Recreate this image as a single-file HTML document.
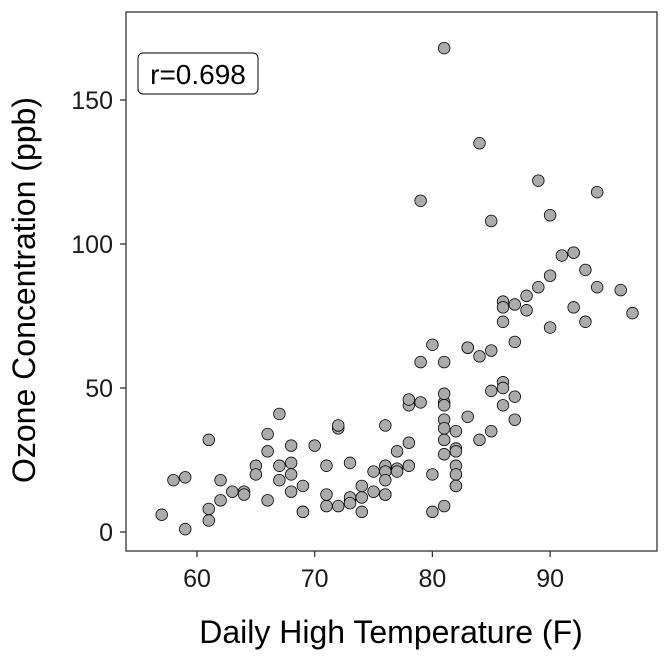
<!DOCTYPE html>
<html><head><meta charset="utf-8"><style>
html,body{margin:0;padding:0;background:#fff;}
svg{display:block;font-family:"Liberation Sans",sans-serif;}
</style></head><body>
<svg id="chart" width="672" height="672" viewBox="0 0 672 672">
<rect x="126" y="12" width="531" height="539" fill="#fff" stroke="#333" stroke-width="1.3"/>
<g id="xticks"></g>
<g id="yticks"></g>
<g id="points"></g>
<g>
<rect x="138" y="53" width="120" height="41" rx="5" fill="#fff" stroke="#000" stroke-width="1"/>
<text x="198" y="84" font-size="28" text-anchor="middle" fill="#000">r=0.698</text>
</g>
<text x="391" y="643" font-size="32" text-anchor="middle" fill="#000">Daily High Temperature (F)</text>
<text transform="translate(35,290) rotate(-90)" font-size="32" text-anchor="middle" fill="#000">Ozone Concentration (ppb)</text>
</svg>
<script>
const temps=[67,72,74,62,66,65,59,61,69,74,69,66,68,58,64,66,57,68,62,59,73,61,61,67,81,79,76,82,90,87,82,72,65,73,76,84,85,81,83,83,88,92,92,89,73,81,80,81,82,84,87,85,74,86,85,82,86,88,86,83,81,81,81,82,86,85,87,89,90,90,86,82,80,77,79,76,78,78,77,72,79,81,86,97,94,96,94,91,92,93,93,87,84,80,78,75,73,81,76,77,71,71,78,67,76,68,82,64,71,81,69,63,70,75,76,68];
const ozone=[41,36,12,18,28,23,19,8,7,7,16,11,14,18,14,34,6,30,11,1,11,4,32,23,45,115,37,29,71,39,23,37,20,12,13,135,49,32,64,40,77,97,97,85,10,27,7,48,35,61,79,63,16,80,108,20,52,82,50,64,59,39,9,16,78,35,66,122,89,110,44,28,65,22,59,23,31,44,21,9,45,168,73,76,118,84,85,96,78,73,91,47,32,20,23,21,24,44,21,28,9,13,46,18,13,24,16,13,23,36,7,14,30,14,18,20];
const xTicks=[60,70,80,90];
const yTicks=[0,50,100,150];
const NS="http://www.w3.org/2000/svg";
const xs=v=>197+(v-60)*11.77;
const ys=v=>532-v*2.88;
const xg=document.getElementById('xticks'),yg=document.getElementById('yticks'),pg=document.getElementById('points');
xTicks.forEach(t=>{
 const l=document.createElementNS(NS,'line');
 l.setAttribute('x1',xs(t));l.setAttribute('x2',xs(t));l.setAttribute('y1',551);l.setAttribute('y2',557);l.setAttribute('stroke','#333');l.setAttribute('stroke-width','1.3');
 
 
 xg.appendChild(l);
 const tx=document.createElementNS(NS,'text');
 tx.setAttribute('x',xs(t));tx.setAttribute('y',587);tx.setAttribute('font-size','25');tx.setAttribute('text-anchor','middle');tx.setAttribute('fill','#1a1a1a');
 tx.textContent=t;
 
 
 xg.appendChild(tx);
});
yTicks.forEach(t=>{
 const l=document.createElementNS(NS,'line');
 l.setAttribute('x1',120);l.setAttribute('x2',126);l.setAttribute('y1',ys(t));l.setAttribute('y2',ys(t));l.setAttribute('stroke','#333');l.setAttribute('stroke-width','1.3');
 
 
 yg.appendChild(l);
 const tx=document.createElementNS(NS,'text');
 tx.setAttribute('x',113);tx.setAttribute('y',ys(t)+9);tx.setAttribute('font-size','25');tx.setAttribute('text-anchor','end');tx.setAttribute('fill','#1a1a1a');
 tx.textContent=t;
 
 
 yg.appendChild(tx);
});
temps.forEach((t,i)=>{
 const c=document.createElementNS(NS,'circle');
 c.setAttribute('cx',xs(t));c.setAttribute('cy',ys(ozone[i]));c.setAttribute('r',5.8);
 c.setAttribute('fill','#ababab');c.setAttribute('stroke','#000');c.setAttribute('stroke-width','0.8');
 
 
 pg.appendChild(c);
});
</script>
</body></html>
